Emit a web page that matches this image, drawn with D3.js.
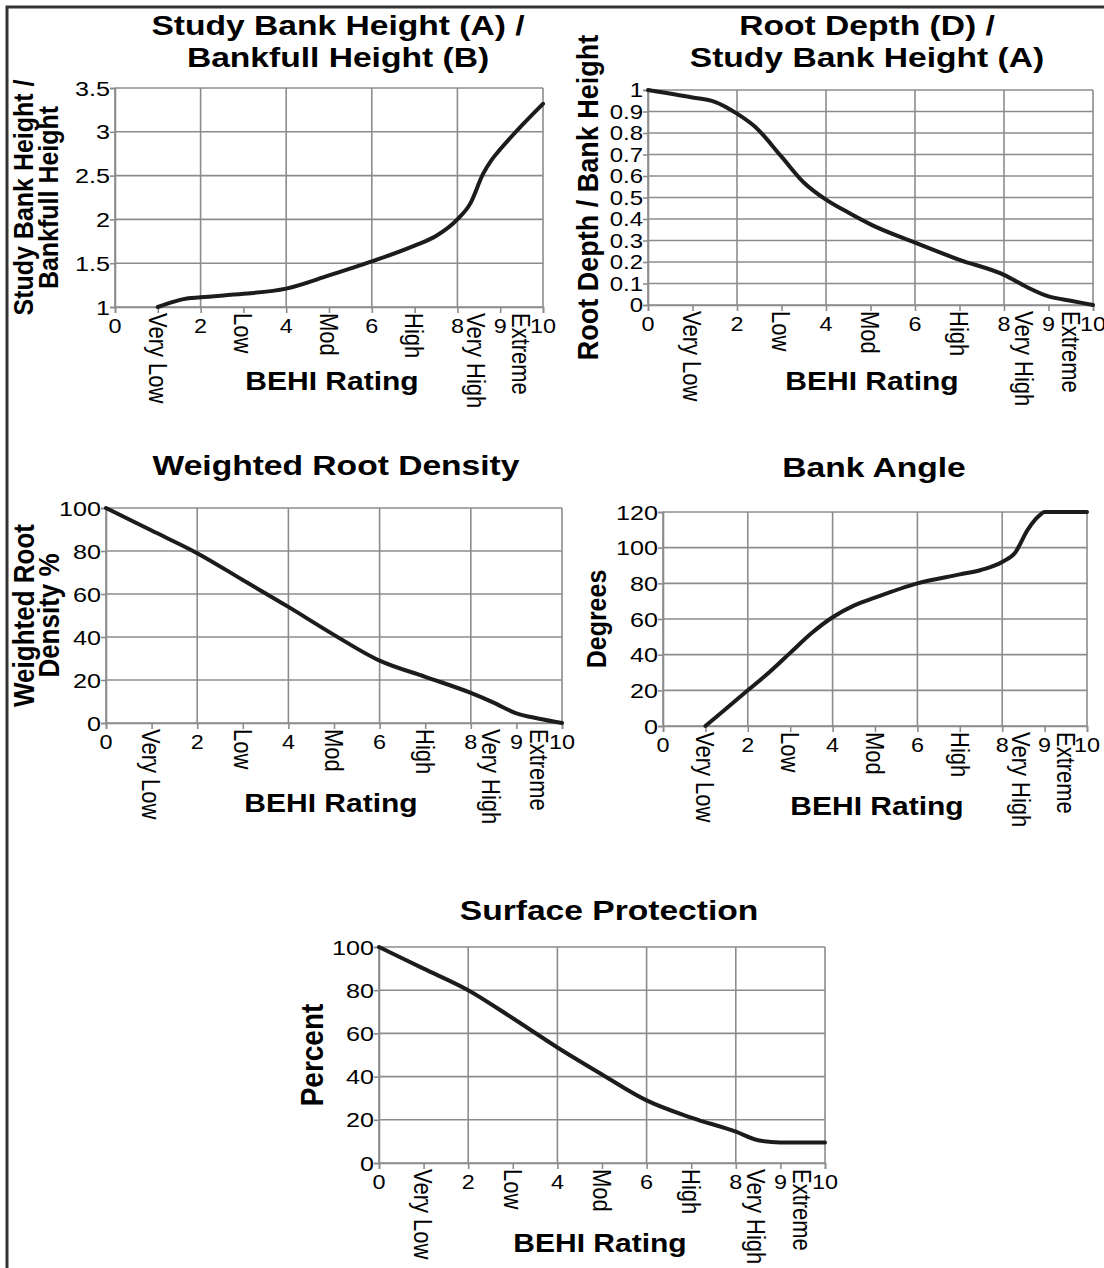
<!DOCTYPE html>
<html><head><meta charset="utf-8">
<script src="https://cdn.jsdelivr.net/npm/d3@7"></script>
<style>
body{margin:0;background:#fff}
svg{display:block}
text{font-family:"Liberation Sans",Arial,Helvetica,sans-serif;fill:#000}
</style>
</head><body>
<svg id="chart" width="1104" height="1268"></svg>
<script>
// ---------- DATA ----------
const xGridValues = [0, 2, 4, 6, 8, 10];
const xTickLabels = [0, 2, 4, 6, 8, 9, 10];
const behiCategories = ["Very Low", "Low", "Mod", "High", "Very High", "Extreme"];
const behiCategoryPos = [1, 3, 5, 7, 8.45, 9.5];
const xAxisTitle = "BEHI Rating";

// Panel 1: Study Bank Height / Bankfull Height
const bankHeightX = [1, 1.3, 1.6, 2, 3, 4, 5, 6, 7, 7.5, 8, 8.3, 8.6, 8.8, 9, 9.5, 10];
const bankHeightY = [1, 1.05, 1.09, 1.11, 1.15, 1.21, 1.36, 1.52, 1.70, 1.81, 2.0, 2.18, 2.52, 2.68, 2.80, 3.07, 3.32];
const bankHeightTicks = [1, 1.5, 2, 2.5, 3, 3.5];

// Panel 2: Root Depth / Study Bank Height
const rootDepthX = [0, 1, 1.5, 2, 2.4, 3, 3.5, 4, 4.5, 5, 6, 7, 8, 8.5, 9, 9.5, 10];
const rootDepthY = [1, 0.965, 0.945, 0.89, 0.83, 0.69, 0.57, 0.49, 0.43, 0.375, 0.29, 0.21, 0.14, 0.085, 0.04, 0.02, 0];
const rootDepthTicks = [0, 0.1, 0.2, 0.3, 0.4, 0.5, 0.6, 0.7, 0.8, 0.9, 1];

// Panel 3: Weighted Root Density
const rootDensityX = [0, 1, 2, 3, 4, 5, 6, 7, 8, 8.5, 9, 9.5, 10];
const rootDensityY = [100, 89.5, 79, 66.5, 54, 41, 29, 21.5, 14, 9.5, 4.5, 2, 0];
const rootDensityTicks = [0, 20, 40, 60, 80, 100];

// Panel 4: Bank Angle
const bankAngleX = [1, 1.5, 2, 2.5, 3, 3.5, 4, 4.5, 5, 6, 7, 7.5, 8, 8.3, 8.6, 8.9, 9, 10];
const bankAngleY = [0, 10, 20, 30, 41, 52, 61, 67.5, 72, 80, 85, 87.5, 92, 97, 110, 118.5, 120, 120];
const bankAngleTicks = [0, 20, 40, 60, 80, 100, 120];

// Panel 5: Surface Protection
const surfaceX = [0, 1, 2, 3, 4, 5, 6, 7, 8, 8.5, 9, 10];
const surfaceY = [100, 90, 80, 67, 53.5, 41, 29, 21, 14.5, 10.5, 9.5, 9.5];
const surfaceTicks = [0, 20, 40, 60, 80, 100];

// ---------- LAYOUT ----------
const SX = 1.2;      // horizontal glyph stretch of the source image
const SXV = 1.1;     // stretch for vertical axis titles
const panels = [
  {title: ["Study Bank Height (A) /", "Bankfull Height (B)"], titleX: 338, titleY: [35, 67],
   yTitle: ["Study Bank Height /", "Bankfull Height"], yTitleX: [24, 49], yTitleSize: 25,
   xs: bankHeightX, ys: bankHeightY, yTicks: bankHeightTicks, yDomain: [1, 3.5], yTickSize: 21,
   box: [115, 88, 543, 307], axTitleX: 332, axTitleY: 390},
  {title: ["Root Depth (D) /", "Study Bank Height (A)"], titleX: 867, titleY: [35, 67],
   yTitle: ["Root Depth / Bank Height"], yTitleX: [588], yTitleSize: 27,
   xs: rootDepthX, ys: rootDepthY, yTicks: rootDepthTicks, yDomain: [0, 1], yTickSize: 20,
   box: [648, 90, 1093, 305], axTitleX: 872, axTitleY: 390},
  {title: ["Weighted Root Density"], titleX: 336, titleY: [475],
   yTitle: ["Weighted Root", "Density %"], yTitleX: [24, 49], yTitleSize: 26,
   xs: rootDensityX, ys: rootDensityY, yTicks: rootDensityTicks, yDomain: [0, 100], yTickSize: 21,
   box: [106, 508, 562, 723], axTitleX: 331, axTitleY: 812},
  {title: ["Bank Angle"], titleX: 874, titleY: [477],
   yTitle: ["Degrees"], yTitleX: [597], yTitleSize: 25,
   xs: bankAngleX, ys: bankAngleY, yTicks: bankAngleTicks, yDomain: [0, 120], yTickSize: 21,
   box: [663, 512, 1087, 726], axTitleX: 877, axTitleY: 815},
  {title: ["Surface Protection"], titleX: 609, titleY: [920],
   yTitle: ["Percent"], yTitleX: [312], yTitleSize: 28,
   xs: surfaceX, ys: surfaceY, yTicks: surfaceTicks, yDomain: [0, 100], yTickSize: 21,
   box: [379, 947, 825, 1163], axTitleX: 600, axTitleY: 1252}
];

const svg = d3.select("#chart");
svg.append("rect").attr("width", 1104).attr("height", 1268).attr("fill", "#fff");
// outer frame (only top and left edges visible in the source)
svg.append("rect").attr("x", 7).attr("y", 7).attr("width", 1200).attr("height", 1400)
  .attr("fill", "none").attr("stroke", "#333").attr("stroke-width", 3);

const gridColor = "#8c8c8c";

panels.forEach(p => {
  const [x0, y0, x1, y1] = p.box;
  const x = d3.scaleLinear().domain([0, 10]).range([x0, x1]);
  const y = d3.scaleLinear().domain(p.yDomain).range([y1, y0]);
  const g = svg.append("g");

  // grid
  g.append("g").selectAll("line").data(xGridValues).join("line")
    .attr("x1", d => x(d)).attr("x2", d => x(d)).attr("y1", y0).attr("y2", y1)
    .attr("stroke", gridColor).attr("stroke-width", 1.6);
  g.append("g").selectAll("line").data(p.yTicks).join("line")
    .attr("x1", x0).attr("x2", x1).attr("y1", d => y(d)).attr("y2", d => y(d))
    .attr("stroke", gridColor).attr("stroke-width", 1.6);

  // axes tick marks
  const xa = g.append("g").attr("transform", `translate(0,${y1})`)
    .call(d3.axisBottom(x).tickValues(d3.range(0, 11)).tickSize(6).tickFormat(""));
  const ya = g.append("g").attr("transform", `translate(${x0},0)`)
    .call(d3.axisLeft(y).tickValues(p.yTicks).tickSize(5).tickFormat(""));
  [xa, ya].forEach(a => {
    a.selectAll("path").attr("stroke", gridColor).attr("stroke-width", 1.6);
    a.selectAll("line").attr("stroke", gridColor).attr("stroke-width", 1.6);
  });

  // y tick labels
  g.append("g").selectAll("text").data(p.yTicks).join("text")
    .attr("transform", d => `translate(${x0 - 5},${y(d)}) scale(${SX},1)`)
    .attr("text-anchor", "end").attr("dy", "0.36em")
    .style("font-size", p.yTickSize + "px")
    .text(d => String(d));

  // x tick labels
  g.append("g").selectAll("text").data(xTickLabels).join("text")
    .attr("transform", d => `translate(${x(d)},${y1 + 26}) scale(${SX},1)`)
    .attr("text-anchor", "middle")
    .style("font-size", "19.5px")
    .text(d => String(d));

  // category labels (rotated)
  g.append("g").selectAll("text").data(behiCategories).join("text")
    .attr("transform", (d, i) => `translate(${x(behiCategoryPos[i])},${y1 + 6}) scale(${SX},1) rotate(90)`)
    .attr("text-anchor", "start").attr("dominant-baseline", "central")
    .style("font-size", "22px")
    .text(d => d);

  // data line
  const line = d3.line().x(d => x(d[0])).y(d => y(d[1])).curve(d3.curveMonotoneX);
  g.append("path").datum(p.xs.map((v, i) => [v, p.ys[i]]))
    .attr("d", line).attr("fill", "none").attr("stroke", "#1c1c1c")
    .attr("stroke-width", 4).attr("stroke-linejoin", "round").attr("stroke-linecap", "round");

  // title
  p.title.forEach((t, i) => {
    g.append("text").attr("transform", `translate(${p.titleX},${p.titleY[i]}) scale(${SX},1)`)
      .attr("text-anchor", "middle").style("font-size", "28px").style("font-weight", "bold").text(t);
  });

  // x axis title
  g.append("text").attr("transform", `translate(${p.axTitleX},${p.axTitleY}) scale(${SX},1)`)
    .attr("text-anchor", "middle").style("font-size", "25px").style("font-weight", "bold")
    .text(xAxisTitle);

  // y axis title
  const yc = (y0 + y1) / 2;
  p.yTitle.forEach((t, i) => {
    g.append("text").attr("transform", `translate(${p.yTitleX[i]},${yc}) scale(${SXV},1) rotate(-90)`)
      .attr("text-anchor", "middle").attr("dominant-baseline", "central")
      .style("font-size", p.yTitleSize + "px").style("font-weight", "bold").text(t);
  });
});
</script>
</body></html>
